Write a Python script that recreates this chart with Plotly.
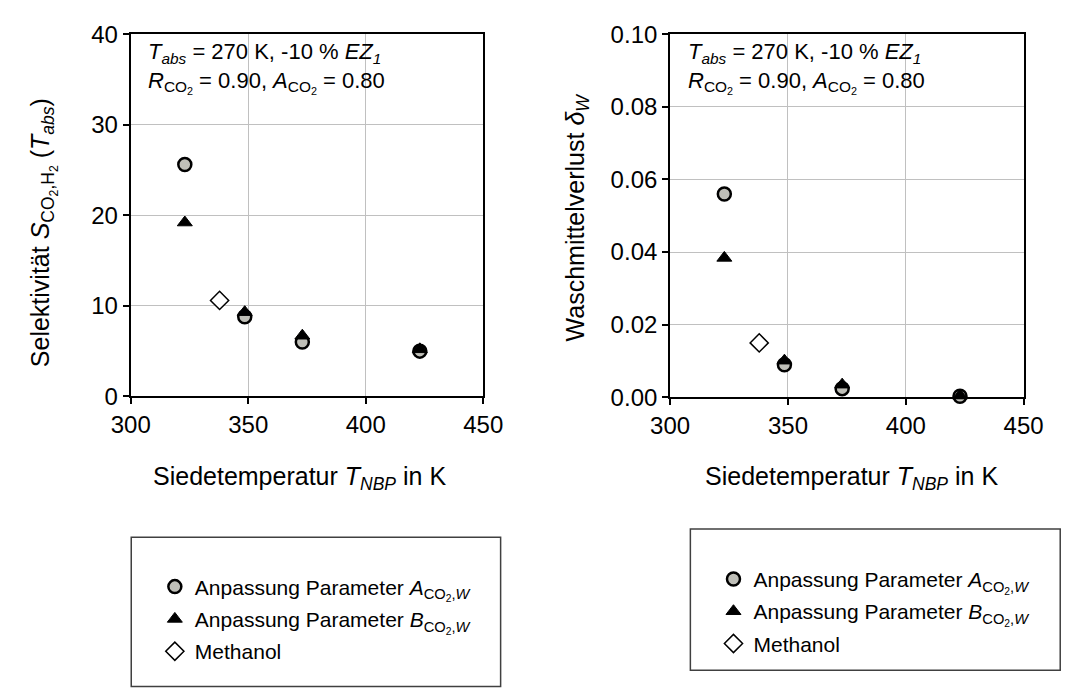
import plotly.graph_objects as go

# ---------------- data ----------------
T_fit = [323, 348.5, 373, 423]          # Siedetemperatur T_NBP in K
S_A = [25.6, 8.8, 6.0, 5.0]             # Selektivität, Anpassung A
S_B = [19.2, 9.3, 6.7, 5.2]             # Selektivität, Anpassung B
d_A = [0.056, 0.009, 0.0024, 0.0003]    # Waschmittelverlust, Anpassung A
d_B = [0.0384, 0.0101, 0.0035, 0.0005]  # Waschmittelverlust, Anpassung B
T_meoh = [337.8]
S_meoh = [10.6]
d_meoh = [0.015]

x_ticks = [300, 350, 400, 450]
yS_ticks = [0, 10, 20, 30, 40]
yd_ticks = [0.00, 0.02, 0.04, 0.06, 0.08, 0.10]

name_A = "Anpassung Parameter <i>A</i><sub>CO<sub>2</sub>,<i>W</i></sub>"
name_B = "Anpassung Parameter <i>B</i><sub>CO<sub>2</sub>,<i>W</i></sub>"
name_M = "Methanol"

W, H = 1086, 689
FONT = "Arial, Liberation Sans, sans-serif"

def px(x):
    return x / W

def py(y):
    return 1 - y / H

fig = go.Figure()

mA = dict(symbol="circle", size=13, color="#bfbfb8", line=dict(color="black", width=2.5))
mB = dict(symbol="triangle-up", size=13, color="black", line=dict(color="black", width=1))
mM = dict(symbol="diamond", size=14, color="white", line=dict(color="black", width=1.5))

for (xa, ya, lg, yA, yB, yM) in [("x", "y", "legend", S_A, S_B, S_meoh),
                                  ("x2", "y2", "legend2", d_A, d_B, d_meoh)]:
    fig.add_trace(go.Scatter(x=T_fit, y=yA, mode="markers", marker=mA, name=name_A,
                             xaxis=xa, yaxis=ya, legend=lg, legendgroup=lg + "A",
                             cliponaxis=False))
    fig.add_trace(go.Scatter(x=T_fit, y=yB, mode="markers", marker=mB, name=name_B,
                             xaxis=xa, yaxis=ya, legend=lg, legendgroup=lg + "B",
                             cliponaxis=False))
    fig.add_trace(go.Scatter(x=T_meoh, y=yM, mode="markers", marker=mM, name=name_M,
                             xaxis=xa, yaxis=ya, legend=lg, legendgroup=lg + "M",
                             cliponaxis=False))

axis_common = dict(showline=True, linecolor="black", linewidth=2, mirror=True,
                   showgrid=True, gridcolor="#c0c0c0", gridwidth=1,
                   ticks="outside", ticklen=6, tickwidth=2, tickcolor="black",
                   tickfont=dict(size=24, family=FONT, color="black"), zeroline=False)

L = (115, 481, 21, 398)
R = (675, 1042, 21, 399)

leg_common = dict(xanchor="left", yanchor="top", bgcolor="rgba(0,0,0,0)", borderwidth=0,
                  tracegroupgap=2, font=dict(size=21, family=FONT, color="black"))

fig.update_layout(
    width=W, height=H,
    margin=dict(l=0, r=0, t=0, b=0),
    paper_bgcolor="white", plot_bgcolor="white",
    font=dict(family=FONT, color="black"),
    xaxis=dict(domain=[px(L[0]), px(L[1])], range=[300, 450], tickvals=x_ticks,
               anchor="y", **axis_common),
    yaxis=dict(domain=[py(L[3]), py(L[2])], range=[0, 40], tickvals=yS_ticks,
               anchor="x", **axis_common),
    xaxis2=dict(domain=[px(R[0]), px(R[1])], range=[300, 450], tickvals=x_ticks,
                anchor="y2", **axis_common),
    yaxis2=dict(domain=[py(R[3]), py(R[2])], range=[0, 0.10], tickvals=yd_ticks,
                tickformat=".2f", anchor="x2", **axis_common),
    legend=dict(x=px(140), y=py(575), **leg_common),
    legend2=dict(x=px(720), y=py(567), **leg_common),
)

# legend frames
fig.add_shape(type="rect", xref="paper", yref="paper",
              x0=px(115.5), x1=px(499), y0=py(544.5), y1=py(700),
              line=dict(color="#404040", width=1.5), fillcolor="rgba(0,0,0,0)", layer="below")
fig.add_shape(type="rect", xref="paper", yref="paper",
              x0=px(696), x1=px(1080), y0=py(536), y1=py(683),
              line=dict(color="#404040", width=1.5), fillcolor="rgba(0,0,0,0)", layer="below")

ann_text = ("<i>T<sub>abs</sub></i> = 270 K, -10 % <i>EZ<sub>1</sub></i><br>"
            "<i>R</i><sub>CO<sub>2</sub></sub> = 0.90, <i>A</i><sub>CO<sub>2</sub></sub> = 0.80")
for x0 in (131, 691):
    fig.add_annotation(xref="paper", yref="paper", x=px(x0), y=py(24),
                       xanchor="left", yanchor="top", align="left", showarrow=False,
                       text=ann_text, font=dict(size=22, family=FONT, color="black"))

xt = "Siedetemperatur <i>T<sub>NBP</sub></i> in K"
for xc in ((L[0] + L[1]) / 2 - 8, (R[0] + R[1]) / 2 + 5):
    fig.add_annotation(xref="paper", yref="paper", x=px(xc), y=py(483),
                       xanchor="center", yanchor="middle", showarrow=False,
                       text=xt, font=dict(size=25, family=FONT, color="black"))

fig.add_annotation(xref="paper", yref="paper", x=px(24), y=py(228),
                   xanchor="center", yanchor="middle", showarrow=False, textangle=-90,
                   text="Selektivität <i>S</i><sub>CO<sub>2</sub>,H<sub>2</sub></sub> (<i>T<sub>abs</sub></i>)",
                   font=dict(size=25, family=FONT, color="black"))
fig.add_annotation(xref="paper", yref="paper", x=px(578), y=py(212),
                   xanchor="center", yanchor="middle", showarrow=False, textangle=-90,
                   text="Waschmittelverlust <i>δ<sub>W</sub></i>",
                   font=dict(size=25, family=FONT, color="black"))

fig.write_html("out.html")
